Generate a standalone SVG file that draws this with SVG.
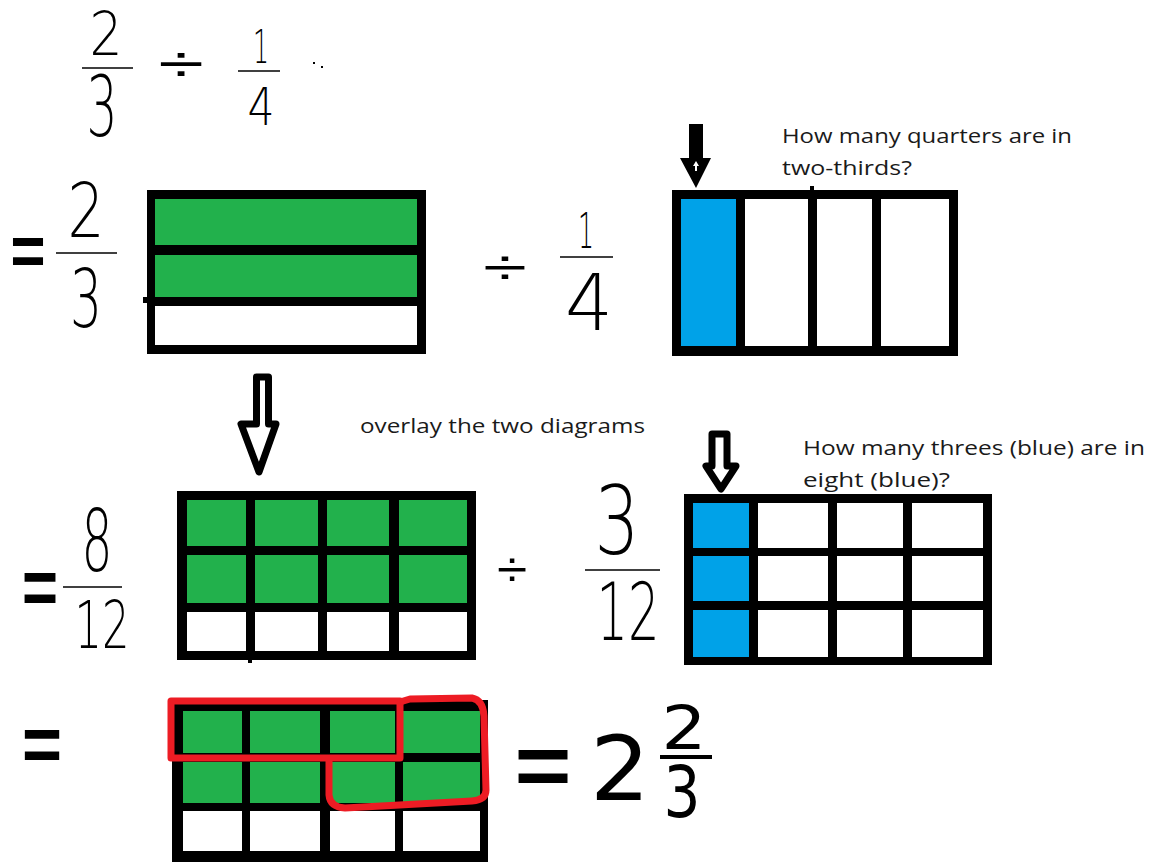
<svg xmlns="http://www.w3.org/2000/svg" width="1154" height="862" viewBox="0 0 1154 862">
<style>
.bg{fill:#fff}
.frame{fill:#000}
.g{fill:#22b14c}
.b{fill:#00a2e8}
.w{fill:#fff}
.hd{font-family:"DejaVu Sans","Liberation Sans",sans-serif;font-weight:200;fill:#000;text-anchor:middle}
.dv{font-family:"Liberation Sans",sans-serif;font-weight:normal;fill:#000;text-anchor:middle}
.hb{font-family:"DejaVu Sans","Liberation Sans",sans-serif;font-weight:normal;fill:#000;text-anchor:middle}
.eq{font-family:"Liberation Sans",sans-serif;font-weight:bold;fill:#000;text-anchor:middle}
.bar{stroke:#000;stroke-width:1.5;fill:none}
.lbl{font-family:"Open Sans","Liberation Sans",sans-serif;font-size:20px;fill:#1a1a1a}
.red{fill:none;stroke:#ed1c24;stroke-width:7;stroke-linejoin:round}
.hollow{fill:#fff;stroke:#000;stroke-width:7;stroke-linejoin:round}
</style>
<rect class="bg" x="0" y="0" width="1154" height="862"/>

<g id="expr-top">
  <text class="hd" x="106" y="55" font-size="60" textLength="33" lengthAdjust="spacingAndGlyphs">2</text>
  <line class="bar" x1="82" y1="68" x2="133" y2="68"/>
  <text class="hd" x="102" y="136" font-size="84" textLength="31" lengthAdjust="spacingAndGlyphs">3</text>
  <text class="dv" transform="translate(181,82) scale(1.6,1)" x="0" y="0" font-size="52">÷</text>
  <text class="hd" x="261" y="63" font-size="46" textLength="16" lengthAdjust="spacingAndGlyphs">1</text>
  <line class="bar" x1="238" y1="71" x2="280" y2="71"/>
  <text class="hd" x="261" y="125" font-size="51" textLength="27" lengthAdjust="spacingAndGlyphs">4</text>
  <rect x="313" y="62" width="2" height="2" fill="#000"/>
  <rect x="321" y="66" width="2" height="2" fill="#000"/>
</g>

<g id="expr-row2">
  <text class="eq" x="28" y="275" font-size="72" textLength="35" lengthAdjust="spacingAndGlyphs">=</text>
  <text class="hd" x="86" y="237" font-size="74" textLength="37" lengthAdjust="spacingAndGlyphs">2</text>
  <line class="bar" x1="56" y1="253" x2="117" y2="253"/>
  <text class="hd" x="86" y="327" font-size="81" textLength="32" lengthAdjust="spacingAndGlyphs">3</text>
  <text class="dv" transform="translate(505,284) scale(1.6,1)" x="0" y="0" font-size="50">÷</text>
  <text class="hd" x="586" y="248" font-size="49" textLength="16" lengthAdjust="spacingAndGlyphs">1</text>
  <line class="bar" x1="560" y1="257" x2="613" y2="257"/>
  <text class="hd" x="589" y="330" font-size="79" textLength="48" lengthAdjust="spacingAndGlyphs">4</text>
</g>

<g id="box-two-thirds">
  <rect class="frame" x="147" y="190" width="279" height="164"/>
  <rect class="frame" x="143" y="297" width="5" height="6"/>
  <rect class="g" x="155" y="199" width="262" height="46"/>
  <rect class="g" x="155" y="255" width="262" height="42"/>
  <rect class="w" x="155" y="306" width="262" height="39"/>
</g>

<g id="box-quarter">
  <rect class="frame" x="672" y="190" width="286" height="166"/>
  <rect class="frame" x="810" y="186" width="4" height="5"/>
  <rect class="b" x="681" y="199" width="55" height="147"/>
  <rect class="w" x="745" y="199" width="63" height="147"/>
  <rect class="w" x="817" y="199" width="55" height="147"/>
  <rect class="w" x="881" y="199" width="68" height="147"/>
</g>

<g id="label-quarters">
  <text class="lbl" x="782" y="143" textLength="290" lengthAdjust="spacingAndGlyphs">How many quarters are in</text>
  <text class="lbl" x="782" y="175" textLength="130" lengthAdjust="spacingAndGlyphs">two-thirds?</text>
</g>

<g id="label-overlay">
  <text class="lbl" x="360" y="433" textLength="285" lengthAdjust="spacingAndGlyphs">overlay the two diagrams</text>
</g>

<g id="label-threes">
  <text class="lbl" x="803" y="455" textLength="342" lengthAdjust="spacingAndGlyphs">How many threes (blue) are in</text>
  <text class="lbl" x="803" y="487" textLength="147" lengthAdjust="spacingAndGlyphs">eight (blue)?</text>
</g>

<g id="expr-row3">
  <text class="eq" x="40" y="614" font-size="80" textLength="36" lengthAdjust="spacingAndGlyphs">=</text>
  <text class="hd" x="97" y="571" font-size="86" textLength="31" lengthAdjust="spacingAndGlyphs">8</text>
  <line class="bar" x1="63" y1="587" x2="122" y2="587"/>
  <text class="hd" x="102" y="648" font-size="66" textLength="55" lengthAdjust="spacingAndGlyphs">12</text>
  <text class="dv" transform="translate(512,586) scale(1.1,1)" x="0" y="0" font-size="50">÷</text>
  <text class="hd" x="617" y="554" font-size="95" textLength="45" lengthAdjust="spacingAndGlyphs">3</text>
  <line class="bar" x1="585" y1="570" x2="660" y2="570"/>
  <text class="hd" x="628" y="640" font-size="80" textLength="63" lengthAdjust="spacingAndGlyphs">12</text>
</g>

<g id="box-eight-twelfths">
  <rect class="frame" x="177" y="491" width="299" height="169"/>
  <rect class="frame" x="248" y="658" width="4" height="5"/>
  <rect class="g" x="187" y="500" width="59" height="46"/>
  <rect class="g" x="255" y="500" width="63" height="46"/>
  <rect class="g" x="327" y="500" width="62" height="46"/>
  <rect class="g" x="399" y="500" width="68" height="46"/>
  <rect class="g" x="187" y="555" width="59" height="48"/>
  <rect class="g" x="255" y="555" width="63" height="48"/>
  <rect class="g" x="327" y="555" width="62" height="48"/>
  <rect class="g" x="399" y="555" width="68" height="48"/>
  <rect class="w" x="187" y="612" width="59" height="39"/>
  <rect class="w" x="255" y="612" width="63" height="39"/>
  <rect class="w" x="327" y="612" width="62" height="39"/>
  <rect class="w" x="399" y="612" width="68" height="39"/>
</g>

<g id="box-three-twelfths">
  <rect class="frame" x="684" y="494" width="308" height="171"/>
  <rect class="b" x="693" y="503" width="56" height="45"/>
  <rect class="w" x="758" y="503" width="70" height="45"/>
  <rect class="w" x="837" y="503" width="66" height="45"/>
  <rect class="w" x="912" y="503" width="71" height="45"/>
  <rect class="b" x="693" y="556" width="56" height="45"/>
  <rect class="w" x="758" y="556" width="70" height="45"/>
  <rect class="w" x="837" y="556" width="66" height="45"/>
  <rect class="w" x="912" y="556" width="71" height="45"/>
  <rect class="b" x="693" y="610" width="56" height="47"/>
  <rect class="w" x="758" y="610" width="70" height="47"/>
  <rect class="w" x="837" y="610" width="66" height="47"/>
  <rect class="w" x="912" y="610" width="71" height="47"/>
</g>

<g id="expr-row4">
  <text class="eq" x="42" y="771" font-size="80" textLength="40" lengthAdjust="spacingAndGlyphs">=</text>
  <text class="eq" x="543" y="795" font-size="88" textLength="57" lengthAdjust="spacingAndGlyphs">=</text>
  <text class="hb" x="620" y="800" font-size="89" textLength="60" lengthAdjust="spacingAndGlyphs">2</text>
  <text class="hb" x="684" y="749" font-size="60" textLength="45" lengthAdjust="spacingAndGlyphs">2</text>
  <line x1="660" y1="757" x2="712" y2="757" stroke="#000" stroke-width="4"/>
  <text class="hb" x="682" y="817" font-size="72" textLength="37" lengthAdjust="spacingAndGlyphs">3</text>
</g>

<g id="box-grouped">
  <rect class="frame" x="172" y="700" width="316" height="162"/>
  <rect class="g" x="183" y="711" width="59" height="42"/>
  <rect class="g" x="250" y="711" width="70" height="42"/>
  <rect class="g" x="330" y="711" width="65" height="42"/>
  <rect class="g" x="403" y="711" width="77" height="42"/>
  <rect class="g" x="183" y="762" width="59" height="41"/>
  <rect class="g" x="250" y="762" width="70" height="41"/>
  <rect class="g" x="330" y="762" width="65" height="41"/>
  <rect class="g" x="403" y="762" width="77" height="41"/>
  <rect class="w" x="183" y="811" width="59" height="40"/>
  <rect class="w" x="250" y="811" width="70" height="40"/>
  <rect class="w" x="330" y="811" width="65" height="40"/>
  <rect class="w" x="403" y="811" width="77" height="40"/>
  <rect class="red" x="171" y="701" width="229" height="57"/>
  <path class="red" d="M400,702 L410,699 L472,698 Q483,700 484,716 L486,790 Q486,800 472,801 L345,808 Q330,807 329,795 L329,758"/>
</g>

<g id="connectors">
  <polygon points="689,124 703,124 703,158 711,158 696,188 680,158 689,158" fill="#000"/>
  <polygon points="696,161 699,166 697,166 697,171 695,171 695,166 693,166" fill="#fff"/>
  <polygon class="hollow" points="256.5,377 268.5,377 268.5,424 276,424 259,472 241,424 256.5,424"/>
  <polygon class="hollow" points="712,434 727,434 727,466 736,466 721,489 706,466 712,466"/>
</g>
</svg>
